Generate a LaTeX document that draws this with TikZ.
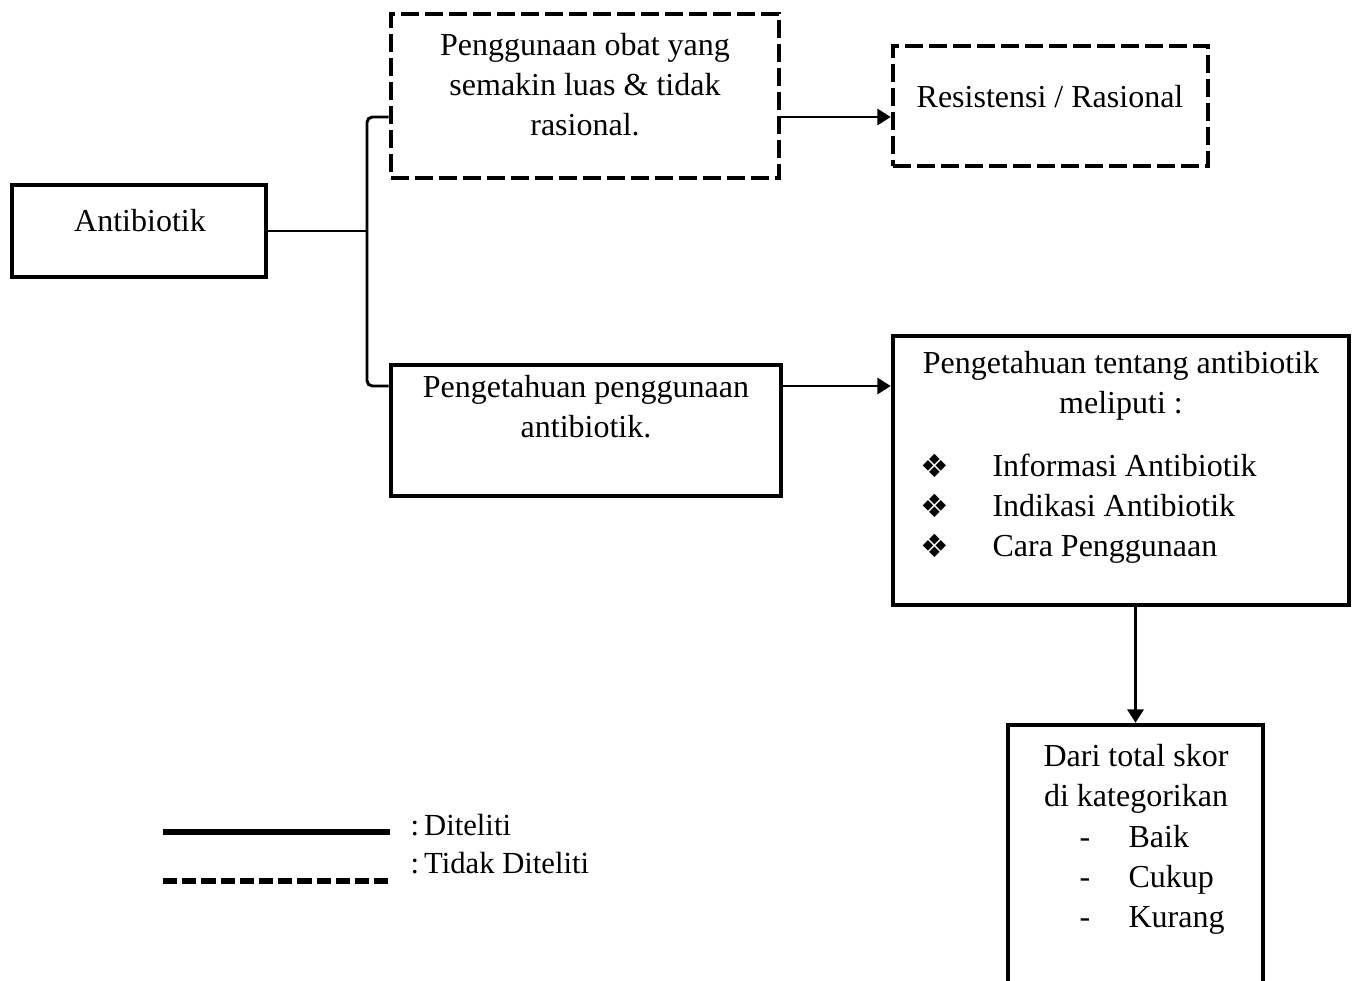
\documentclass[tikz,border=0pt]{standalone}
\usepackage{fontspec}
\setmainfont{Liberation Serif}
\newfontfamily\dingfont{DejaVu Sans}
\usetikzlibrary{arrows.meta,calc,positioning}

\tikzset{
  box/.style={draw, line width=1.7pt, inner sep=0pt},
  dashbox/.style={box, dash pattern=on 6.75pt off 2.25pt},
  boxsize/.style 2 args={minimum width=#1*0.375pt, minimum height=#2*0.375pt},
  txt/.style={inner sep=0pt, font=\fontsize{12}{15}\selectfont, align=flush center},
  legtxt/.style={inner sep=0pt, font=\fontsize{11.5}{14}\selectfont},
  link/.style={line width=1.1pt},
  arrowlink/.style={link, -{Triangle[length=5pt,width=6pt]}}
}
\newcommand{\bulitem}{\makebox[27pt][l]{\raisebox{-0.6pt}{\dingfont\fontsize{12}{12}\selectfont ❖}}}
\newcommand{\dashitem}{\makebox[18.4pt][l]{-}}

\begin{document}
\begin{tikzpicture}[x=0.375pt, y=-0.375pt]
  \useasboundingbox (0,0) rectangle (1357,980);
  % boxes
  \node[box, boxsize={254}{92}] (anti) at (139,231) {};
  \node[dashbox, boxsize={388}{164}] (use1) at (585,96) {};
  \node[dashbox, boxsize={315}{120}] (resist) at (1050.5,106) {};
  \node[box, boxsize={390}{131}] (know) at (586,430.5) {};
  \node[box, boxsize={456}{269}] (meli) at (1121,470.5) {};
  \node[box, boxsize={255}{280}] (skor) at (1135.5,865) {};
  % box texts
  \node[txt, anchor=base] (antiText) at (140,231) {Antibiotik};
  \node[txt, anchor=base, text width=145pt] (use1Text) at (585,55)
    {Penggunaan obat yang\\ semakin luas \& tidak\\ rasional.};
  \node[txt, anchor=base] (resistText) at (1050,107) {Resistensi / Rasional};
  \node[txt, anchor=base, text width=145pt] (knowText) at (586,397)
    {Pengetahuan penggunaan\\ antibiotik.};
  \node[txt, anchor=base, text width=170pt] (meliText) at (1121,373)
    {Pengetahuan tentang antibiotik\\ meliputi :};
  \node[txt, anchor=base west, align=flush left, text width=150pt] (meliList) at (920,476)
    {\bulitem Informasi Antibiotik\\ \bulitem Indikasi Antibiotik\\ \bulitem Cara Penggunaan};
  \node[txt, anchor=base, text width=95pt] (skorText) at (1136,766)
    {Dari total skor\\ di kategorikan};
  \node[txt, anchor=base west, align=flush left, text width=80pt] (skorList) at (1079,847)
    {\dashitem Baik\\ \dashitem Cukup\\ \dashitem Kurang};
  % connectors
  \coordinate (split) at (367,231);
  \coordinate (upY) at (0,117);
  \coordinate (loY) at (0,386);
  \draw[link] (anti.east) -- (split);
  \draw[link, rounded corners=2pt] (use1.west |- upY) -| (split) |- (know.west |- loY);
  \draw[arrowlink] (use1.east |- upY) -- (resist.west |- upY);
  \draw[arrowlink] (know.east |- loY) -- (meli.west |- loY);
  \draw[arrowlink] (skor.north |- meli.south) -- (skor.north);
  % legend
  \coordinate (solidA) at (163,832);
  \coordinate (solidB) at (390,832);
  \coordinate (dashA) at (163,881);
  \coordinate (dashB) at (390,881);
  \draw[line width=1.9pt] (solidA) -- (solidB);
  \draw[line width=2.1pt, dash pattern=on 5.3pt off 1.9pt] (dashA) -- (dashB);
  \node[legtxt, anchor=base west] (legSolid) at (410,835) {:\,Diteliti};
  \node[legtxt, anchor=base west] (legDash) at (410,873) {:\,Tidak Diteliti};
\end{tikzpicture}
\end{document}
